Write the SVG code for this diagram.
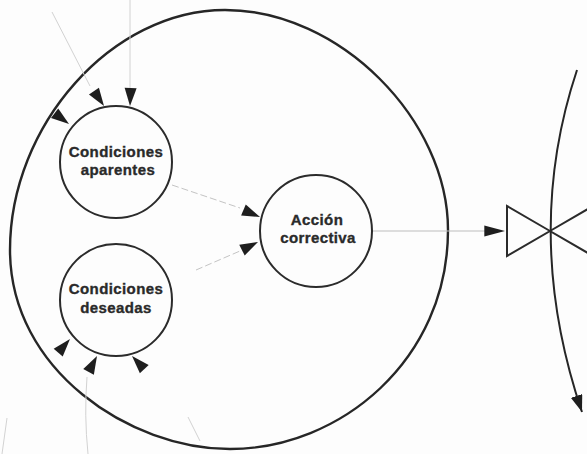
<svg xmlns="http://www.w3.org/2000/svg" width="587" height="454" viewBox="0 0 587 454">
<style>
.node circle{fill:none;stroke:#2b2b2b;stroke-width:2}
.node text{font-family:"Liberation Sans",Arial,sans-serif;font-weight:bold;font-size:15px;letter-spacing:0.4px;fill:#2a2a2a;stroke:#2a2a2a;stroke-width:0.35;text-anchor:middle}
.loop{fill:none;stroke:#262626;stroke-width:2.4}
.faint{fill:none;stroke:#d2d2d2;stroke-width:1}
.dash{fill:none;stroke:#c4c4c4;stroke-width:1;stroke-dasharray:7 3}
.ah{fill:#1e1e1e}
</style>
<defs>
<path id="ah" d="M0,0 L-18,-6 L-18,6 Z"/>
<marker id="endArrow" markerWidth="18" markerHeight="12" refX="17" refY="6" orient="auto" markerUnits="userSpaceOnUse">
<path d="M0,0 L17,6 L0,12 Z" fill="#1e1e1e"/>
</marker>
</defs>
<rect width="587" height="454" fill="#fdfdfd"/>

<g id="loop">
<path class="loop" d="M10,250 C10,125 112,10 225,10 C340,10 448,120 448,230 C448,360 340,449 230,449 C130,449 10,370 10,250 Z"/>
</g>

<g id="valve" fill="none" stroke="#2b2b2b" stroke-width="2">
<path d="M550,231 L507,206 L507,256 Z"/>
<path d="M550,231 L593,206 L593,256 Z"/>
</g>

<g id="connectors">
<line class="faint" x1="130" y1="0" x2="130" y2="88" stroke="#c8c8c8"/>
<line class="faint" x1="52" y1="12" x2="90" y2="86"/>
<line class="dash" x1="172" y1="185" x2="240" y2="208"/>
<line class="dash" x1="196" y1="270" x2="240" y2="251"/>
<line x1="372" y1="231" x2="488" y2="231" stroke="#bdbdbd" stroke-width="1.2"/>
<path class="faint" d="M87,377 Q84,415 88,454"/>
<line class="faint" x1="7" y1="418" x2="2" y2="454"/>
<line class="faint" x1="188" y1="417" x2="200" y2="441"/>
<path d="M577,70 Q522,235 582,412" fill="none" stroke="#262626" stroke-width="2" marker-end="url(#endArrow)"/>
<g class="ah">
<use href="#ah" transform="translate(69,124) rotate(37)"/>
<use href="#ah" transform="translate(104,106) rotate(56)"/>
<use href="#ah" transform="translate(130,106) rotate(92)"/>
<use href="#ah" transform="translate(260,217) rotate(23)"/>
<use href="#ah" transform="translate(258,242) rotate(-27)"/>
<use href="#ah" transform="translate(505,231) rotate(0) scale(1.15,0.9)"/>
<use href="#ah" transform="translate(70,339) rotate(-49)"/>
<use href="#ah" transform="translate(97,356) rotate(-62)"/>
<use href="#ah" transform="translate(132,356) rotate(-133)"/>
</g>
</g>

<g id="node-aparentes" class="node">
<circle cx="116" cy="162" r="56"/>
<text x="116" y="157">Condiciones</text>
<text x="118" y="175">aparentes</text>
</g>

<g id="node-deseadas" class="node">
<circle cx="116" cy="300" r="56"/>
<text x="116" y="294">Condiciones</text>
<text x="116" y="313">deseadas</text>
</g>

<g id="node-accion" class="node">
<circle cx="316" cy="231" r="56"/>
<text x="317" y="225">Acción</text>
<text x="318" y="243">correctiva</text>
</g>
</svg>
